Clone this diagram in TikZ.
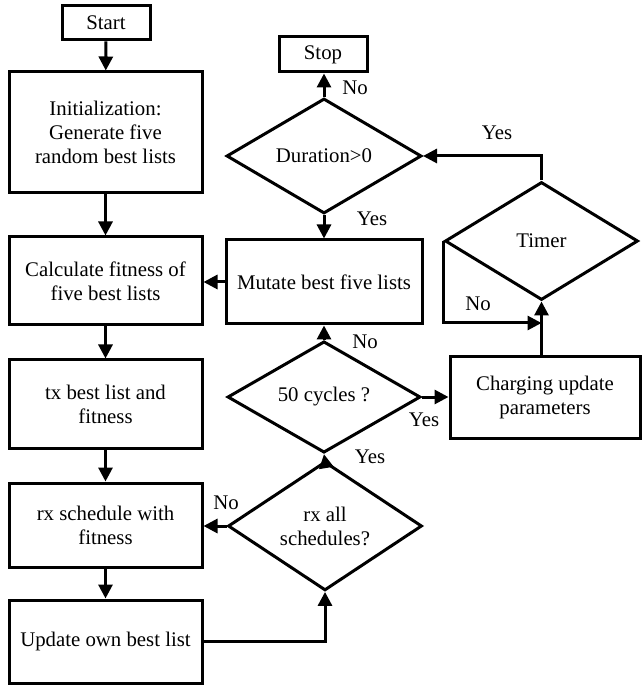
\documentclass[tikz,border=0pt]{standalone}
\usepackage{fontspec}
\setmainfont{Liberation Serif}
\usepackage{xcolor}
\usepackage{tikz}
\usetikzlibrary{shapes.geometric,arrows.meta}

\begin{document}
\begin{tikzpicture}[x=0.5pt,y=-0.5pt,line width=1.5pt,
  font=\fontsize{10.4}{12}\selectfont,
  box/.style={rectangle,draw,align=center,inner sep=1pt},
  decision/.style={diamond,draw,align=center,inner sep=0pt},
  arr/.style={-{Triangle[length=7pt,width=7pt]}}]
\useasboundingbox (0,0) rectangle (643,688);
% left column
\node at (106,23) [box,minimum width=44pt,minimum height=17pt] (start) {Start};
\node at (105.5,132.5) [box,minimum width=96.5pt,minimum height=60.5pt] (init) {Initialization:\\Generate five\\random best lists};
\node at (105.5,281) [box,minimum width=96.5pt,minimum height=44pt] (calc) {Calculate fitness of\\five best lists};
\node at (105.5,404) [box,minimum width=96.5pt,minimum height=44pt] (tx) {tx best list and\\fitness};
\node at (105.5,525) [box,minimum width=96.5pt,minimum height=42pt] (rxsched) {rx schedule with\\fitness};
\node at (105.5,641.5) [box,minimum width=96.5pt,minimum height=41.5pt] (update) {Update own best list};
% middle column
\node at (323,54.5) [box,minimum width=44pt,minimum height=17.5pt] (stop) {Stop};
\node at (324,156) [decision,minimum width=97.5pt,minimum height=57.5pt] (duration) {Duration>0};
\node at (324,282) [box,minimum width=98pt,minimum height=42pt] (mutate) {Mutate best five lists};
\node at (324,397) [decision,minimum width=96.5pt,minimum height=42.5pt] (cycles) {50 cycles ?};
\node at (325,526) [decision,minimum width=97pt,minimum height=58.5pt] (rxall) {rx all\\schedules?};
% right column
\node at (541.5,241) [decision,minimum width=96.5pt,minimum height=59pt] (timer) {Timer};
\node at (545,397.5) [box,minimum width=95pt,minimum height=41pt] (charging) {Charging update\\parameters};
\coordinate (tmerge) at (541.5,323);
% connectors
\draw (start)[arr] -- (init);
\draw (init)[arr] -- (calc);
\draw (calc)[arr] -- (tx);
\draw (tx)[arr] -- (rxsched);
\draw (rxsched)[arr] -- (update);
\draw (update.east)[arr] -| (rxall.south);
\draw (rxall.west)[arr] -- (rxsched.east |- rxall.west);
\draw (rxall.north)[arr] -- (cycles.south);
\draw (cycles.north)[arr] -- (mutate.south);
\draw (cycles.east)[arr] -- (charging.west |- cycles.east);
\draw (mutate.west)[arr] -- (calc.east |- mutate.west);
\draw (duration.south)[arr] -- (mutate.north);
\draw (duration.north)[arr] -- (stop.south -| duration.north);
\draw (charging.north -| timer.south)[arr] -- (timer.south);
\draw (timer.west)[arr] |- (tmerge);
\draw (timer.north)[arr] |- (duration.east);
% labels
\node at (226,503) (lno1) {No};
\node at (370,457) (lyes1) {Yes};
\node at (365,342) (lno2) {No};
\node at (424,420) (lyes2) {Yes};
\node at (372,219) (lyes3) {Yes};
\node at (355,88) (lno3) {No};
\node at (497,133) (lyes4) {Yes};
\node at (478,304) (lno4) {No};
\end{tikzpicture}
\end{document}
